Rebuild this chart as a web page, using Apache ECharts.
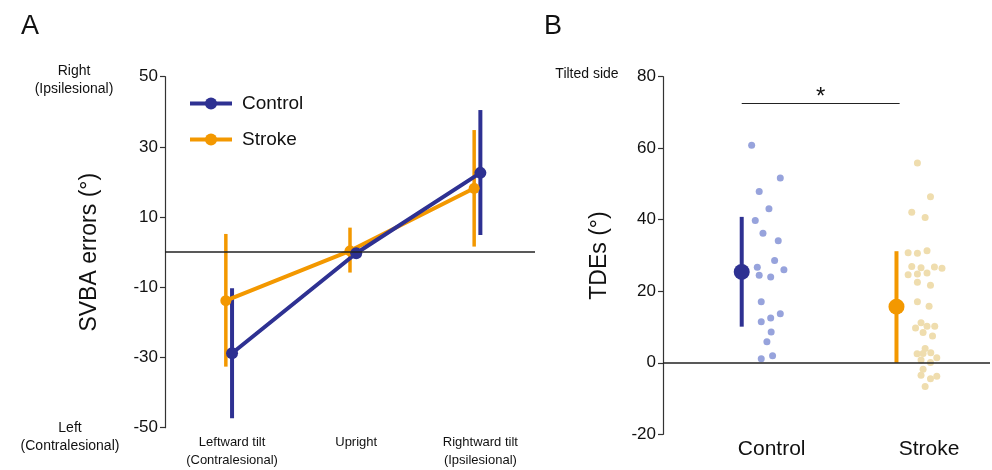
<!DOCTYPE html>
<html>
<head>
<meta charset="utf-8">
<script src="https://cdn.jsdelivr.net/npm/echarts@6/dist/echarts.min.js"></script>
<style>
  html, body { margin: 0; padding: 0; background: #fff; }
  #chart { width: 992px; height: 470px; }
</style>
</head>
<body>
<div id="chart"></div>
<script>
// panel A: SVBA errors by tilt condition
const tiltCats = ['Leftward tilt\n(Contralesional)', 'Upright', 'Rightward tilt\n(Ipsilesional)']
const tiltPos = [1, 2, 3]
const strokeShift = -0.05

const controlMean = [-28.8, -0.3, 22.6]
const controlLow = [-47.3, -1.5, 4.9]
const controlHigh = [-10.3, 1.0, 40.5]

const strokeMean = [-13.8, 0.4, 18.2]
const strokeLow = [-32.6, -5.8, 1.6]
const strokeHigh = [5.2, 7.0, 34.8]

// panel B: TDEs, individual points + mean/SD
const groupCats = ['Control', 'Stroke']
const groupPos = [1, 2]

const controlPtsX = [0.873, 1.055, 0.921, 0.983, 0.896, 0.945, 1.042, 1.019, 0.909, 1.078,
  0.921, 0.994, 0.934, 1.055, 0.994, 0.934, 0.997, 0.970, 1.006, 0.934]
const controlPtsY = [60.8, 51.7, 47.9, 43.1, 39.8, 36.2, 34.1, 28.6, 26.7, 26.0,
  24.5, 24.0, 17.1, 13.7, 12.5, 11.5, 8.6, 5.9, 2.0, 1.1]

const strokePtsX = [1.926, 2.009, 1.890, 1.975, 1.867, 1.926, 1.987, 1.890, 1.949, 2.034,
  2.082, 1.867, 1.926, 1.987, 1.926, 2.009, 1.926, 2.000, 1.949, 1.987,
  2.036, 1.914, 1.962, 2.022, 1.975, 1.924, 1.962, 2.011, 2.049, 1.949,
  2.009, 1.962, 1.949, 2.049, 2.009, 1.975]
const strokePtsY = [55.9, 46.4, 42.1, 40.6, 30.8, 30.6, 31.3, 26.9, 26.6, 26.8,
  26.4, 24.6, 24.8, 25.1, 22.5, 21.7, 17.1, 15.8, 11.2, 10.2,
  10.2, 9.7, 8.5, 7.5, 4.0, 2.5, 2.6, 2.8, 1.4, 0.8,
  0.1, -1.8, -3.5, -3.8, -4.5, -6.6]

const groupMeanX = [0.81, 1.793]
const groupMean = [25.4, 15.7]
const groupLow = [10.1, 0]
const groupHigh = [40.8, 31.2]
const sigY = 72.5

const BLUE = '#2E3192'
const ORANGE = '#F39800'
const FONT = 'Liberation Sans, Arial, sans-serif'

const zip = (xs, ys) => xs.map((x, i) => [x, ys[i]])

function errorBar (color, width) {
  return function (params, api) {
    const a = api.coord([api.value(0), api.value(1)])
    const b = api.coord([api.value(0), api.value(2)])
    return {
      type: 'line',
      shape: { x1: a[0], y1: a[1], x2: b[0], y2: b[1] },
      style: { stroke: color, lineWidth: width }
    }
  }
}

const tickLabel = { fontSize: 17, color: '#111', fontFamily: FONT, margin: 7 }
const axisLine = { show: true, lineStyle: { color: '#333', width: 1.2 } }
const axisTick = { show: true, length: 5, lineStyle: { color: '#333', width: 1.2 } }

const chart = echarts.init(document.getElementById('chart'))

const option = {
  animation: false,
  textStyle: { fontFamily: FONT },
  title: [
    { text: 'A', left: 16, top: 8, textStyle: { fontSize: 27, fontWeight: 'normal', color: '#111' } },
    { text: 'B', left: 539, top: 8, textStyle: { fontSize: 27, fontWeight: 'normal', color: '#111' } }
  ],
  graphic: [
    {
      type: 'text', x: 74, y: 80,
      style: { text: 'Right\n(Ipsilesional)', align: 'center', verticalAlign: 'middle', fontSize: 14, lineHeight: 18, fill: '#111', fontFamily: FONT }
    },
    {
      type: 'text', x: 70, y: 437,
      style: { text: 'Left\n(Contralesional)', align: 'center', verticalAlign: 'middle', fontSize: 14, lineHeight: 18, fill: '#111', fontFamily: FONT }
    },
    {
      type: 'text', x: 587, y: 74,
      style: { text: 'Tilted side', align: 'center', verticalAlign: 'middle', fontSize: 14, fill: '#111', fontFamily: FONT }
    }
  ],
  legend: {
    data: ['Control', 'Stroke'],
    orient: 'vertical',
    left: 183,
    top: 89,
    itemWidth: 42,
    itemHeight: 15,
    itemGap: 17,
    lineStyle: { width: 4 },
    textStyle: { fontSize: 19, color: '#111', fontFamily: FONT, padding: [0, 0, 0, 5] }
  },
  grid: [
    { left: 165, top: 76.7, width: 370, height: 351 },
    { left: 663, top: 76.7, width: 327, height: 357.6 }
  ],
  xAxis: [
    {
      gridIndex: 0, type: 'value', min: 0.46, max: 3.44,
      axisLine: { show: false }, axisTick: { show: false }, splitLine: { show: false },
      axisLabel: {
        customValues: tiltPos,
        formatter: v => tiltCats[Math.round(v) - 1],
        fontSize: 13, lineHeight: 18, color: '#111', fontFamily: FONT, margin: 6
      }
    },
    {
      gridIndex: 1, type: 'value', min: 0.31, max: 2.387,
      axisLine: { show: false }, axisTick: { show: false }, splitLine: { show: false },
      axisLabel: {
        customValues: groupPos,
        formatter: v => groupCats[Math.round(v) - 1],
        fontSize: 21, color: '#111', fontFamily: FONT, margin: 4
      }
    }
  ],
  yAxis: [
    {
      gridIndex: 0, type: 'value', min: -50, max: 50, interval: 20,
      name: 'SVBA errors (°)', nameLocation: 'middle', nameGap: 64,
      nameTextStyle: { fontSize: 23, color: '#111', fontFamily: FONT },
      axisLine: axisLine, axisTick: axisTick, splitLine: { show: false },
      axisLabel: tickLabel
    },
    {
      gridIndex: 1, type: 'value', min: -20, max: 80, interval: 20,
      name: 'TDEs (°)', nameLocation: 'middle', nameGap: 52,
      nameTextStyle: { fontSize: 23, color: '#111', fontFamily: FONT },
      axisLine: axisLine, axisTick: axisTick, splitLine: { show: false },
      axisLabel: tickLabel
    }
  ],
  series: [
    // panel A
    {
      name: 'Stroke SD', type: 'custom', xAxisIndex: 0, yAxisIndex: 0,
      renderItem: errorBar(ORANGE, 3.5),
      data: tiltPos.map((p, i) => [p + strokeShift, strokeLow[i], strokeHigh[i]]),
      markLine: {
        silent: true, symbol: 'none', label: { show: false },
        lineStyle: { color: '#222', width: 1.5, type: 'solid' },
        data: [{ yAxis: 0 }]
      }
    },
    {
      name: 'Stroke', type: 'line', xAxisIndex: 0, yAxisIndex: 0,
      data: zip(tiltPos.map(p => p + strokeShift), strokeMean),
      symbol: 'circle', symbolSize: 11,
      lineStyle: { color: ORANGE, width: 4 },
      itemStyle: { color: ORANGE }
    },
    {
      name: 'Control SD', type: 'custom', xAxisIndex: 0, yAxisIndex: 0,
      renderItem: errorBar(BLUE, 4),
      data: tiltPos.map((p, i) => [p, controlLow[i], controlHigh[i]])
    },
    {
      name: 'Control', type: 'line', xAxisIndex: 0, yAxisIndex: 0,
      data: zip(tiltPos, controlMean),
      symbol: 'circle', symbolSize: 12,
      lineStyle: { color: BLUE, width: 4 },
      itemStyle: { color: BLUE }
    },
    // panel B
    {
      name: 'Control pts', type: 'scatter', xAxisIndex: 1, yAxisIndex: 1,
      data: zip(controlPtsX, controlPtsY),
      symbolSize: 7,
      itemStyle: { color: '#97A3DC', opacity: 1 },
      markLine: {
        silent: true, symbol: 'none', label: { show: false },
        lineStyle: { color: '#222', width: 1.5, type: 'solid' },
        data: [{ yAxis: 0 }]
      }
    },
    {
      name: 'Stroke pts', type: 'scatter', xAxisIndex: 1, yAxisIndex: 1,
      data: zip(strokePtsX, strokePtsY),
      symbolSize: 7,
      itemStyle: { color: '#EFDDAE', opacity: 1 }
    },
    {
      name: 'Group SD', type: 'custom', xAxisIndex: 1, yAxisIndex: 1,
      renderItem: function (params, api) {
        const a = api.coord([api.value(0), api.value(1)])
        const b = api.coord([api.value(0), api.value(2)])
        return {
          type: 'line',
          shape: { x1: a[0], y1: a[1], x2: b[0], y2: b[1] },
          style: { stroke: params.dataIndex === 0 ? BLUE : ORANGE, lineWidth: 4 }
        }
      },
      data: groupMeanX.map((x, i) => [x, groupLow[i], groupHigh[i]]),
      markLine: {
        silent: true, symbol: 'none',
        lineStyle: { color: '#222', width: 1.2, type: 'solid' },
        label: { show: true, position: 'insideMiddleTop', formatter: '*', fontSize: 24, color: '#111', distance: -6 },
        data: [[{ coord: [groupMeanX[0], sigY] }, { coord: [groupMeanX[1] + 0.02, sigY] }]]
      }
    },
    {
      name: 'Group mean', type: 'scatter', xAxisIndex: 1, yAxisIndex: 1,
      data: zip(groupMeanX, groupMean),
      symbolSize: 16,
      itemStyle: { color: p => (p.dataIndex === 0 ? BLUE : ORANGE), opacity: 1 }
    }
  ]
}

chart.setOption(option)
</script>
</body>
</html>
